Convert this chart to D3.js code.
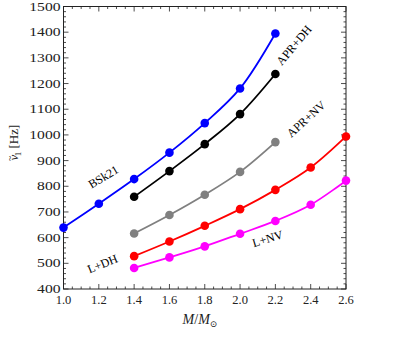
<!DOCTYPE html>
<html><head><meta charset="utf-8">
<script src="https://cdn.jsdelivr.net/npm/d3@7"></script>
<style>body{margin:0;background:#fff}svg{display:block}text{font-family:"Liberation Serif","DejaVu Serif",serif;fill:#222}</style>
</head><body><svg id="c" width="415" height="347"></svg>
<script>
const seriesNames = ["BSk21","APR+DH","APR+NV","L+DH","L+NV"];
const colors = ["#0000ff","#000000","#808080","#ff0000","#ff00ff"];
const massBSk21 = [1.0,1.2,1.4,1.6,1.8,2.0,2.2];
const freqBSk21 = [639,732,828,931,1046,1181,1395];
const massAPRDH = [1.4,1.6,1.8,2.0,2.2];
const freqAPRDH = [759,859,964,1081,1237];
const massAPRNV = [1.4,1.6,1.8,2.0,2.2];
const freqAPRNV = [616,688,767,856,972];
const massLDH = [1.4,1.6,1.8,2.0,2.2,2.4,2.6];
const freqLDH = [528,585,646,711,786,873,994];
const massLNV = [1.4,1.6,1.8,2.0,2.2,2.4,2.6];
const freqLNV = [482,523,566,615,665,728,822];
const xTicks = [1.0,1.2,1.4,1.6,1.8,2.0,2.2,2.4,2.6];
const yTicks = [400,500,600,700,800,900,1000,1100,1200,1300,1400,1500];

const masses=[massBSk21,massAPRDH,massAPRNV,massLDH,massLNV];
const freqs=[freqBSk21,freqAPRDH,freqAPRNV,freqLDH,freqLNV];

const svg=d3.select("#c");
const L=63.5,R=346,T=6.5,B=289;
const x=d3.scaleLinear().domain([1.0,2.6]).range([L,R]);
const y=d3.scaleLinear().domain([400,1500]).range([B,T]);

svg.append("rect").attr("x",L).attr("y",T).attr("width",R-L).attr("height",B-T)
  .attr("fill","none").attr("stroke","#222").attr("stroke-width",1);

const g=svg.append("g").attr("stroke","#222").attr("stroke-width",0.8);
d3.range(1.0,2.6001,0.05).forEach(v=>{
  const major=Math.abs(Math.round(v*5)-v*5)<1e-6;
  const len=major?5:2.5;
  g.append("line").attr("x1",x(v)).attr("x2",x(v)).attr("y1",B).attr("y2",B-len);
  g.append("line").attr("x1",x(v)).attr("x2",x(v)).attr("y1",T).attr("y2",T+len);
});
d3.range(400,1500.1,20).forEach(v=>{
  const major=v%100===0;
  const len=major?5:2.5;
  g.append("line").attr("y1",y(v)).attr("y2",y(v)).attr("x1",L).attr("x2",L+len);
  g.append("line").attr("y1",y(v)).attr("y2",y(v)).attr("x1",R).attr("x2",R-len);
});

svg.append("g").selectAll("text").data(xTicks).join("text")
  .attr("x",d=>x(d)).attr("y",B+15).attr("text-anchor","middle")
  .attr("font-size",12.5).text(d=>d.toFixed(1));
svg.append("g").selectAll("text").data(yTicks).join("text")
  .attr("x",L-3).attr("y",d=>y(d)+4).attr("text-anchor","end")
  .attr("font-size",12.5).attr("textLength",d=>String(d).length*7.8).attr("lengthAdjust","spacingAndGlyphs")
  .text(d=>d);

const xl=svg.append("text").attr("x",200).attr("y",324).attr("text-anchor","middle").attr("font-size",14);
xl.append("tspan").attr("font-style","italic").text("M");
xl.append("tspan").text("/");
xl.append("tspan").attr("font-style","italic").text("M");
xl.append("tspan").attr("font-size",9).attr("dy",3).text("⊙");

const yl=svg.append("text").attr("transform","translate(18,143) rotate(-90)").attr("text-anchor","middle").attr("font-size",13);
yl.append("tspan").attr("font-style","italic").text("ν");
yl.append("tspan").attr("font-size",10).attr("dx",-6.5).attr("dy",-5).text("~");
yl.append("tspan").attr("font-size",9).attr("dx",-0.5).attr("dy",8).text("1");
yl.append("tspan").attr("dy",-3).text(" [Hz]");

const line=d3.line().curve(d3.curveCatmullRom.alpha(0.5)).x(d=>x(d[0])).y(d=>y(d[1]));
seriesNames.forEach((n,i)=>{
  const pts=masses[i].map((m,j)=>[m,freqs[i][j]]);
  svg.append("path").datum(pts).attr("d",line).attr("fill","none")
    .attr("stroke",colors[i]).attr("stroke-width",1.8);
  svg.append("g").selectAll("circle").data(pts).join("circle")
    .attr("cx",d=>x(d[0])).attr("cy",d=>y(d[1])).attr("r",4.3).attr("fill",colors[i]);
});

const labs=[["BSk21",104,178,-31],["APR+DH",295,46,-50],["APR+NV",307,120,-42],["L+DH",103,265,-22],["L+NV",268,240,-17]];
labs.forEach(([t,lx,ly,a])=>{
  svg.append("text").attr("transform",`translate(${lx},${ly}) rotate(${a})`)
    .attr("text-anchor","middle").attr("dominant-baseline","middle").attr("font-size",12).style("fill","#000").text(t);
});
</script></body></html>
